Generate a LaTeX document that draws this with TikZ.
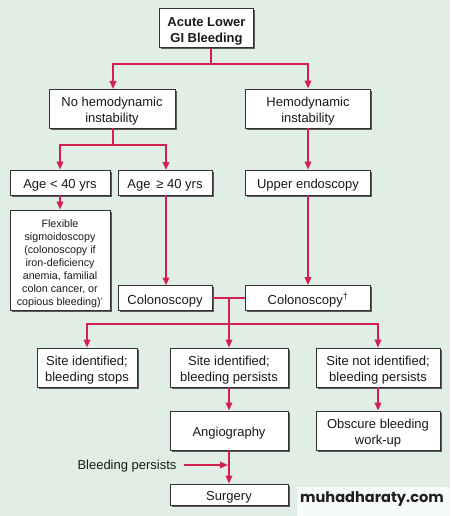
\documentclass[tikz,border=0pt]{standalone}
\usepackage{fontspec}
\setmainfont{Liberation Sans}
\newfontfamily\wmfont{Poppins}
\usetikzlibrary{arrows.meta,shadows}
\definecolor{bgmint}{RGB}{224,238,230}
\definecolor{flowred}{RGB}{212,32,78}
\definecolor{boxline}{RGB}{50,50,50}
\definecolor{txt}{RGB}{25,25,25}
\newcommand\tstrut{\rule{0pt}{15pt}}
\newcommand\sstrut{\rule{0pt}{14.5pt}}
\tikzset{
  box/.style={draw=boxline, line width=0.8pt, fill=white, rectangle, inner sep=0pt,
    align=center, text=txt, font=\fontsize{13}{16}\selectfont,
    drop shadow={shadow xshift=1.6pt, shadow yshift=-1.6pt, fill=black!70, opacity=0.9}},
  smallbox/.style={box, font=\fontsize{10.7}{13}\selectfont},
  flow/.style={draw=flowred, line width=1.8pt},
  arr/.style={flow, -{Triangle[length=8pt,width=6.5pt]}},
}
\begin{document}
\begin{tikzpicture}[x=1pt,y=-1pt]
\fill[bgmint] (0,0) rectangle (450,516);
\useasboundingbox (0,0) rectangle (450,516);

\node[box, minimum width=94pt, minimum height=39pt, font=\bfseries\fontsize{13}{16}\selectfont] (top) at (206.5,28) {\tstrut Acute Lower\\GI Bleeding};
\node[box, minimum width=126pt, minimum height=39pt] (nohemo) at (112,108.5) {\tstrut No hemodynamic\\instability};
\node[box, minimum width=125pt, minimum height=39pt] (hemo) at (308,108.5) {\tstrut Hemodynamic\\instability};
\node[box, minimum width=100pt, minimum height=25pt] (age1) at (60,182.5) {\tstrut Age < 40 yrs};
\node[box, minimum width=94pt, minimum height=25pt] (age2) at (165,182.5) {\tstrut Age \,≥ 40 yrs};
\node[box, minimum width=125pt, minimum height=25pt] (upper) at (308,182.5) {\tstrut Upper endoscopy};
\node[smallbox, minimum width=100pt, minimum height=100pt] (flex) at (60,260) {\sstrut Flexible\\sigmoidoscopy\\(colonoscopy if\\iron-deficiency\\anemia, familial\\colon cancer, or\\copious bleeding)\textsuperscript{\tiny *}};
\node[box, minimum width=94pt, minimum height=25pt] (colon1) at (165,298) {\tstrut Colonoscopy};
\node[box, minimum width=125pt, minimum height=25pt] (colon2) at (308,298) {\tstrut Colonoscopy\textsuperscript{\dag}};
\node[box, minimum width=100pt, minimum height=39pt] (stops) at (87,367.5) {\tstrut Site identified;\\bleeding stops};
\node[box, minimum width=118pt, minimum height=39pt] (persists) at (229,367.5) {\tstrut Site identified;\\bleeding persists};
\node[box, minimum width=124pt, minimum height=39pt] (notid) at (378,367.5) {\tstrut Site not identified;\\bleeding persists};
\node[box, minimum width=118pt, minimum height=39pt] (angio) at (229,430.5) {\tstrut Angiography};
\node[box, minimum width=124pt, minimum height=39pt] (obscure) at (378,430.5) {\tstrut Obscure bleeding\\work-up};
\node[box, minimum width=118pt, minimum height=21pt] (surgery) at (229,494.5) {\tstrut Surgery};
\node[text=txt, font=\fontsize{13}{16}\selectfont, inner sep=0pt] (bp) at (127,466) {Bleeding persists};

\coordinate (j1) at (211,64);
\coordinate (j2) at (113,145);
\coordinate (j3) at (229,298);
\coordinate (j4) at (229,324);
\coordinate (bpend) at (228,465);

\draw[flow] (top.south -| j1) -- (j1);
\draw[arr] (j1) -| (113,89);
\draw[arr] (j1) -| (hemo.north);
\draw[flow] (nohemo.south -| j2) -- (j2);
\draw[arr] (j2) -| (age1.north);
\draw[arr] (j2) -| (166,170);
\draw[arr] (hemo.south) -- (upper.north);
\draw[arr] (age1.south) -- (flex.north);
\draw[arr] (166,195) -- (166,285.5);
\draw[arr] (upper.south) -- (colon2.north);
\draw[flow] (colon1.east) -- (colon2.west);
\draw[flow] (j3) -- (j4);
\draw[arr] (j4) -| (stops.north);
\draw[arr] (j4) -- (persists.north);
\draw[arr] (j4) -| (notid.north);
\draw[arr] (persists.south) -- (angio.north);
\draw[arr] (notid.south) -- (obscure.north);
\draw[arr] (angio.south) -- (surgery.north);
\draw[arr] ([xshift=7pt]bp.east |- bpend) -- (bpend);

\fill[white!70!bgmint] (297,487) rectangle (450,516);
\node[font=\wmfont\bfseries\fontsize{14.6}{17}\selectfont, text=black!88, inner sep=0pt] (wm) at (372,499) {muhadharaty.com};
\end{tikzpicture}
\end{document}
